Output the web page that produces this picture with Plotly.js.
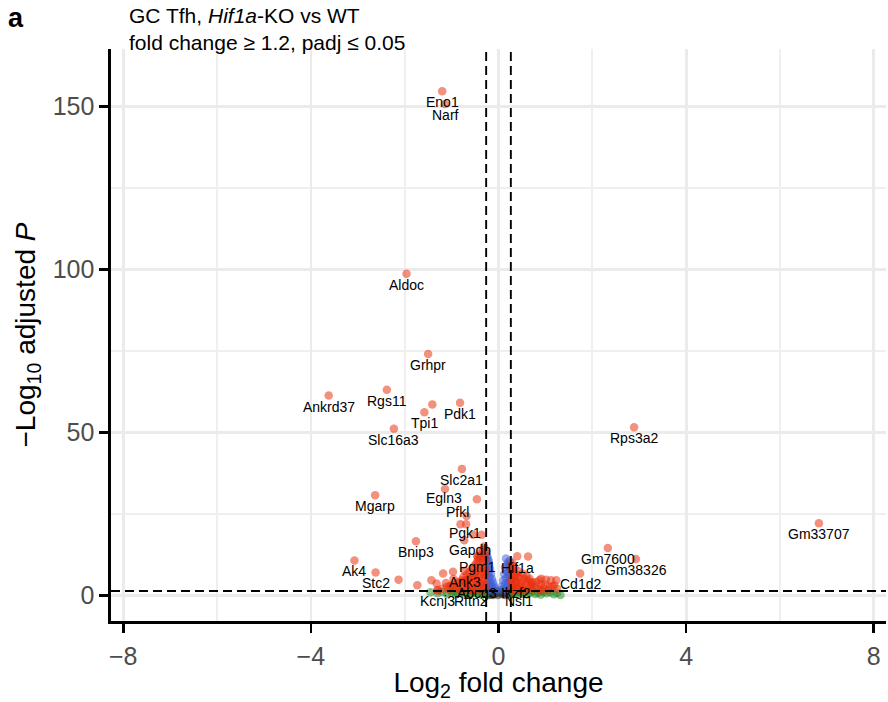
<!DOCTYPE html>
<html>
<head>
<meta charset="utf-8">
<script src="https://cdn.plot.ly/plotly-3.0.1.min.js"></script>
<style>html,body{margin:0;padding:0;background:#fff;}#chart{width:888px;height:702px;}</style>
</head>
<body>
<div id="chart"></div>
<script>
// ---- data ----
// labelled genes
const geneNames = ["Eno1","Narf","Aldoc","Grhpr","Ankrd37","Rgs11","Pdk1","Tpi1","Slc16a3","Slc2a1",
  "Rps3a2","Gm33707","Gm7600","Gm38326","Cd1d2","Mgarp","Egln3","Pfkl","Pgk1","Gapdh","Bnip3",
  "Ak4","Stc2","Pgm1","Hif1a","Ank3","Abcg3","Ikzf2","Kcnj3","Rftn2","Nsl1"];
const geneLog2FC = [-1.20,-1.14,-1.96,-1.50,-3.62,-2.38,-0.82,-1.58,-2.23,-0.78,
  2.89,6.83,2.33,2.93,1.74,-2.63,-1.14,-0.68,-0.69,-0.73,-1.76,
  -3.07,-2.62,-0.45,0.40,-0.72,-0.45,0.38,-1.30,-0.58,0.43];
const geneNegLog10P = [154.7,150.8,98.7,74.1,61.3,63.1,59.1,56.2,51.1,38.8,
  51.6,22.1,14.5,11.1,6.7,30.7,32.6,24.3,21.8,16.9,16.6,
  10.7,7.0,12.0,12.0,7.5,4.0,4.0,1.6,1.6,1.6];

// unlabelled, significant in both fold change and padj
const sigLog2FC = [-1.41,-0.46,-0.81,-0.54,-0.36,-2.13,-1.73,0.63,
  -1.43,-1.18,-0.97,-1.32,-0.79,-1.04,
  0.27,0.38,0.66,0.87,1.01,1.23,0.73,1.09,0.91,1.12,0.72,1.19,
  -0.30,-0.28,-0.33,-0.36,-0.30,-0.40,-0.45,-0.32,-0.50,-0.38,-0.55,-0.29,-0.60,-0.42,-0.35,-0.65,
  -0.70,-0.48,-0.30,-0.75,-0.85,-0.58,-0.40,-0.90,-0.68,-0.33,-0.50,-1.00,-0.80,-0.62,-0.28,-1.10,
  -0.44,-0.72,-0.95,-0.36,-0.55,-1.20,-0.85,-0.30,-0.65,-1.05,-0.46,-0.78,-1.30,-0.38,-0.58,
  -0.34,-0.40,-0.45,-0.52,-0.29,-0.37,-0.31,-0.27,
  -0.48,-0.56,-0.42,-0.62,-0.50,-0.44,-0.68,-0.58,-0.38,-0.75,-0.88,-0.96,-1.12,-0.66,
  0.28,0.32,0.30,0.40,0.35,0.45,0.55,0.29,0.50,0.62,0.38,0.70,0.80,0.45,0.33,0.58,0.90,0.68,1.00,
  0.28,0.50,0.78,1.15,0.40,0.60,0.95,0.30,0.85,0.48,1.25,0.70,0.36,1.05,0.56,0.90,0.31,
  0.30,0.34,0.42,0.52,0.29,0.60];
const sigNegLog10P = [58.6,29.5,21.8,18.6,18.6,4.8,3.1,11.9,
  4.6,6.7,7.2,3.6,4.6,2.8,
  4.6,6.4,5.1,4.6,4.8,4.6,2.6,2.6,5.1,4.6,4.1,3.1,
  12.5,11.0,10.0,9.0,8.5,8.0,7.5,7.0,6.8,6.5,6.0,6.0,5.5,5.5,5.0,5.0,
  4.6,4.5,4.3,4.2,4.0,4.0,3.8,3.5,3.5,3.4,3.2,3.1,3.0,2.9,2.8,2.6,
  2.6,2.4,2.3,2.2,2.1,2.0,1.9,1.8,1.7,1.6,1.6,1.5,1.5,1.45,1.4,
  14.0,12.0,10.5,9.0,13.5,11.5,15.0,7.5,
  9.5,8.2,10.8,7.2,6.0,11.8,6.3,5.2,12.8,5.6,2.4,5.0,3.8,2.2,
  8.0,7.0,6.0,6.2,5.2,5.5,5.0,4.5,4.2,4.5,4.0,3.8,4.0,3.5,3.2,3.3,3.4,3.0,3.2,
  2.8,2.7,2.6,2.8,2.4,2.2,2.3,2.0,1.9,1.8,2.0,1.7,1.6,1.6,1.5,1.45,1.4,
  9.0,8.6,7.4,6.6,10.0,5.8];

// significant padj only (small fold change)
const pLog2FC = [-0.25,-0.24,-0.22,-0.25,-0.20,-0.23,-0.18,-0.21,-0.16,-0.24,-0.19,-0.14,-0.22,-0.12,
  -0.17,-0.25,-0.10,-0.20,-0.15,-0.08,-0.23,-0.12,-0.18,-0.06,
  0.16,0.20,0.23,0.14,0.25,0.18,0.12,0.22,0.16,0.25,0.10,0.20,0.14,0.24,0.08,0.18,0.12,0.22,0.06,0.15,
  -0.26,-0.21,-0.24,0.24,0.19,0.21];
const pNegLog10P = [13.5,12.0,11.0,10.0,9.5,8.5,8.0,7.0,6.5,6.0,5.5,5.0,4.5,4.0,
  3.8,3.5,3.0,2.8,2.5,2.2,2.0,1.8,1.6,1.5,
  11.3,10.0,9.0,8.5,8.0,7.2,6.5,6.0,5.2,4.8,4.5,4.0,3.5,3.0,2.8,2.5,2.0,1.8,1.6,1.5,
  11.8,10.5,7.8,10.6,9.4,6.8];

// fold change only (padj not significant)
const fcLog2FC = [-1.45,-1.30,-1.20,-1.10,-1.00,-0.95,-0.90,-0.85,-0.78,-0.72,-0.66,-0.60,-0.55,-0.50,
  -0.45,-0.40,-0.35,-0.32,-0.28,
  0.28,0.32,0.36,0.42,0.46,0.50,0.56,0.60,0.66,0.72,0.78,0.84,0.90,0.96,1.02,1.10,1.18,1.25,1.32];
const fcNegLog10P = [0.9,0.6,1.0,0.4,0.8,1.1,0.3,0.7,1.0,0.5,0.9,0.2,0.6,1.1,
  0.4,0.8,0.2,1.0,0.5,
  0.4,1.0,0.7,0.2,1.1,0.5,0.9,0.3,0.7,1.1,0.4,0.8,0.2,1.0,0.6,0.9,0.3,0.7,0.1];

// not significant
const nsLog2FC = [-0.25,-0.22,-0.19,-0.16,-0.13,-0.10,-0.07,-0.04,-0.01,0.02,0.05,0.08,0.11,0.14,0.17,
  0.20,0.23,0.25,-0.20,0.00,-0.12,0.12];
const nsNegLog10P = [1.1,0.5,0.9,0.2,0.7,1.2,0.4,0.9,0.1,0.6,1.1,0.3,0.8,0.1,1.0,
  0.5,0.9,0.2,0.05,0.8,0.1,0.4];

// thresholds
const fcCutoff = Math.log2(1.2);
const pCutoff = -Math.log10(0.05);

// ---- styles ----
const FONT = "Helvetica, 'Liberation Sans', Arial, sans-serif";
const cRed = "rgb(232,48,14)";
const cBlue = "rgb(60,95,215)";
const cGreen = "rgb(34,139,34)";
const cGrey = "rgb(55,55,55)";
const ALPHA = 0.53;
const MS = 8.5;

function pts(x, y, color) {
  return {x: x, y: y, type: "scatter", mode: "markers", hoverinfo: "skip", showlegend: false,
    marker: {color: color, size: MS, opacity: ALPHA, line: {width: 0}}};
}
const traces = [
  pts(nsLog2FC, nsNegLog10P, cGrey),
  pts(fcLog2FC, fcNegLog10P, cGreen),
  pts(pLog2FC, pNegLog10P, cBlue),
  pts(sigLog2FC, sigNegLog10P, cRed),
  pts(geneLog2FC, geneNegLog10P, cRed)
];

// label pixel offsets [dx, dy] (default below the point)
const labelShift = {Pfkl: [-9, 4], Egln3: [-1, -9], Gapdh: [6, -10], Pgk1: [-1, -9], Hif1a: [0, -12]};
const annotations = geneNames.map((g, i) => {
  const s = labelShift[g] || [0, -11];
  return {x: geneLog2FC[i], y: geneNegLog10P[i], xref: "x", yref: "y", text: g, showarrow: false,
    xanchor: "center", yanchor: "middle", xshift: s[0], yshift: s[1],
    font: {family: FONT, size: 14, color: "#000"}};
});
annotations.push({x: -0.122, y: 1.054, xref: "paper", yref: "paper", text: "<b>a</b>", showarrow: false,
  xanchor: "center", yanchor: "middle", font: {family: FONT, size: 27, color: "#000"}});
annotations.push({x: 0.0205, y: 1.082, xref: "paper", yref: "paper", showarrow: false,
  text: "GC Tfh, <i>Hif1a</i>-KO vs WT<br>fold change ≥ 1.2, padj ≤ 0.05",
  xanchor: "left", yanchor: "top", align: "left", font: {family: FONT, size: 21, color: "#000"}});

const dashStyle = {color: "#000", width: 1.9, dash: "9px,5px"};
const shapes = [
  {type: "line", xref: "x", yref: "paper", x0: -fcCutoff, x1: -fcCutoff, y0: 0, y1: 1, line: dashStyle},
  {type: "line", xref: "x", yref: "paper", x0: fcCutoff, x1: fcCutoff, y0: 0, y1: 1, line: dashStyle},
  {type: "line", xref: "paper", yref: "y", x0: 0, x1: 1, y0: pCutoff, y1: pCutoff, line: dashStyle}
];

const axisCommon = {
  showline: true, linecolor: "#000", linewidth: 2.6, mirror: false,
  ticks: "outside", ticklen: 9, tickwidth: 2.6, tickcolor: "#000",
  showgrid: true, gridcolor: "#EBEBEB", gridwidth: 2.7, zeroline: false,
  tickfont: {family: FONT, size: 25, color: "#4D4D4D"},
  minor: {showgrid: true, gridcolor: "#EFEFEF", gridwidth: 1.8, ticks: ""}
};

const layout = {
  width: 888, height: 702,
  margin: {l: 111, r: 2, t: 49, b: 81},
  paper_bgcolor: "#fff", plot_bgcolor: "#fff",
  font: {family: FONT, color: "#000"},
  xaxis: Object.assign({}, axisCommon, {range: [-8.26, 8.26], tick0: 0, dtick: 4,
    minor: Object.assign({}, axisCommon.minor, {dtick: 2}),
    ticklabelstandoff: 2,
    title: {text: "Log<sub>2</sub> fold change", font: {family: FONT, size: 28, color: "#000"}, standoff: 9}}),
  yaxis: Object.assign({}, axisCommon, {range: [-7.9, 167.7], tick0: 0, dtick: 50,
    minor: Object.assign({}, axisCommon.minor, {dtick: 25}),
    ticklabelstandoff: 0,
    title: {text: "−Log<sub>10</sub> adjusted <i>P</i>", font: {family: FONT, size: 28, color: "#000"}, standoff: 9}}),
  shapes: shapes,
  annotations: annotations
};

Plotly.newPlot("chart", traces, layout, {staticPlot: true, displayModeBar: false});
</script>
</body>
</html>
